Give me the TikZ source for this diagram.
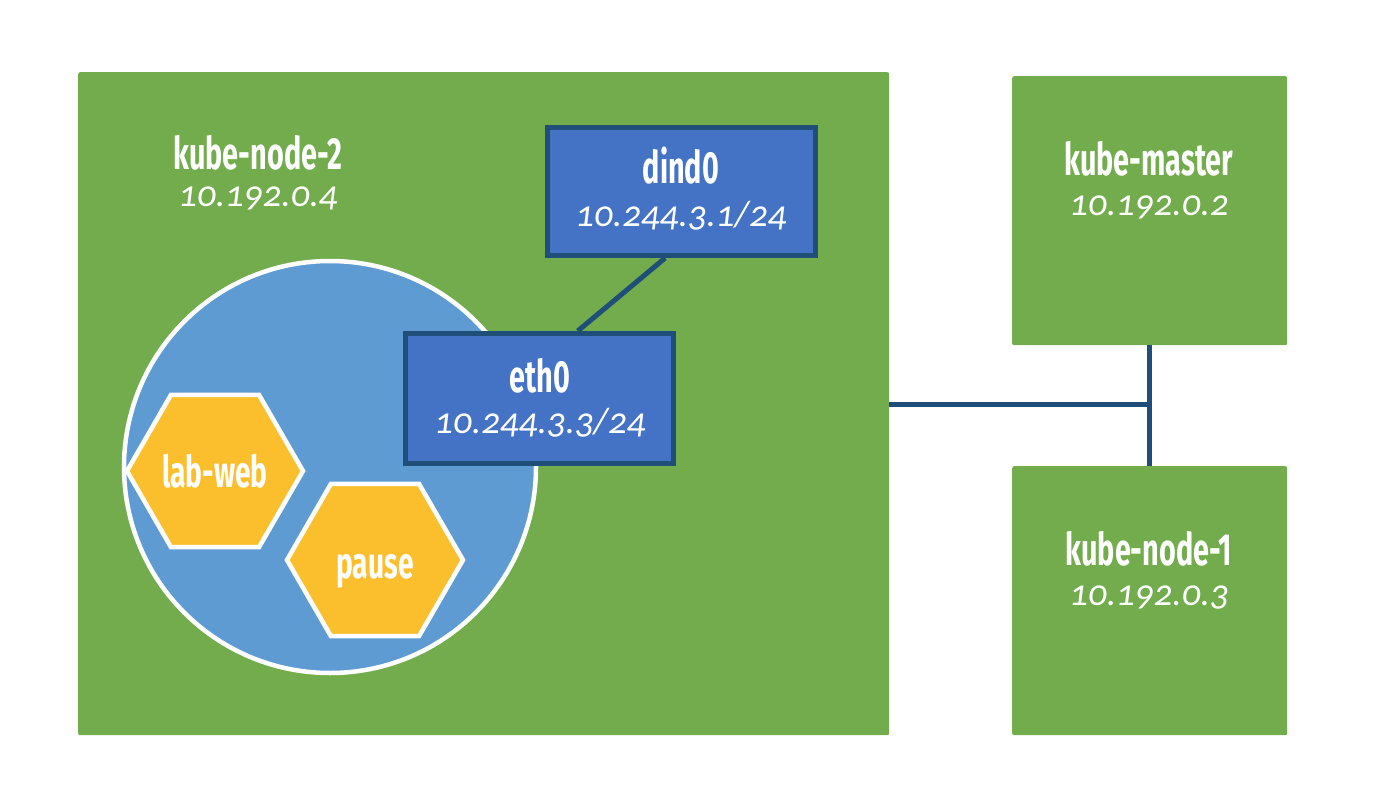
\documentclass[tikz,border=0pt]{standalone}
\usepackage{fontspec}
\usetikzlibrary{shapes.geometric,calc}
\newfontfamily\condfont[FakeStretch=0.64]{Fira Sans}
\newfontfamily\ipfont[Numbers=OldStyle]{Carlito}
\definecolor{nodegreen}{HTML}{72AC4D}
\definecolor{boxblue}{HTML}{4472C4}
\definecolor{podblue}{HTML}{5F9BD3}
\definecolor{darkline}{HTML}{1F4E79}
\definecolor{hexorange}{HTML}{FBBF2E}
\pgfdeclarelayer{back}
\pgfdeclarelayer{front}
\pgfsetlayers{back,main,front}
\tikzset{
  host/.style={fill=nodegreen, rounded corners=2pt, inner sep=0pt, anchor=north west},
  iface/.style={fill=boxblue, draw=darkline, line width=5pt, inner sep=0pt, align=center, text=white},
  container/.style={regular polygon, regular polygon sides=6, minimum size=176pt, inner sep=0pt,
     fill=hexorange, draw=white, line width=4.5pt},
  wire/.style={draw=darkline, line width=5pt},
  title/.style={text=white, font=\condfont\bfseries\fontsize{45}{48}\selectfont, inner sep=0pt},
  hextext/.style={text=white, font=\condfont\bfseries\fontsize{44}{48}\selectfont, inner sep=0pt},
  ip/.style={text=white, font=\ipfont\itshape\fontsize{37}{40}\selectfont, inner sep=0pt}
}
\begin{document}
\begin{tikzpicture}[x=1pt,y=-1pt]
\useasboundingbox (0,0) rectangle (1380,810);
\begin{pgfonlayer}{back}
% hosts
\node[host, minimum width=811pt, minimum height=663pt] (n2) at (78,72) {};
\node[host, minimum width=275pt, minimum height=269pt] (master) at (1012,76) {};
\node[host, minimum width=275pt, minimum height=269pt] (n1) at (1012,466) {};
% pod
\node[circle, fill=podblue, draw=white, line width=4.5pt, minimum size=412pt, inner sep=0pt] (pod) at (330,467) {};
\node[container] (web) at (215,471) {};
\node[container] (pause) at (375,560) {};
\end{pgfonlayer}
\begin{pgfonlayer}{front}
% interfaces
\node[iface, minimum width=268pt, minimum height=128pt] (dind) at (681.5,191.5) {};
\node[iface, minimum width=268pt, minimum height=130pt] (eth) at (539.5,398.5) {};
% labels
\node[hextext] (webt) at (215,471) {lab-web};
\node[hextext, anchor=base] (pauset) at (375,578) {pause};
\node[title] (n2t) at (258,153) {kube-node-2};
\node[ip] (n2ip) at (258,198) {10.192.0.4};
\node[title] (dindt) at (681,166) {dind0};
\node[ip] (dindip) at (681,216) {10.244.3.1/24};
\node[title] (etht) at (540,376) {eth0};
\node[ip] (ethip) at (540,423) {10.244.3.3/24};
\node[title] (mt) at (1149,159) {kube-master};
\node[ip] (mip) at (1149,207) {10.192.0.2};
\node[title] (n1t) at (1149,549) {kube-node-1};
\node[ip] (n1ip) at (1149,598) {10.192.0.3};
\end{pgfonlayer}
% connectors
\coordinate (junct) at (master.south |- 0,404);
\draw[wire] (n2.east |- junct) -- (junct);
\draw[wire] (master.south) -- (n1.north);
\draw[wire] ($(dind.south west)!0.44!(dind.south east)$) -- ($(eth.north west)!0.64!(eth.north east)$);
\end{tikzpicture}
\end{document}
